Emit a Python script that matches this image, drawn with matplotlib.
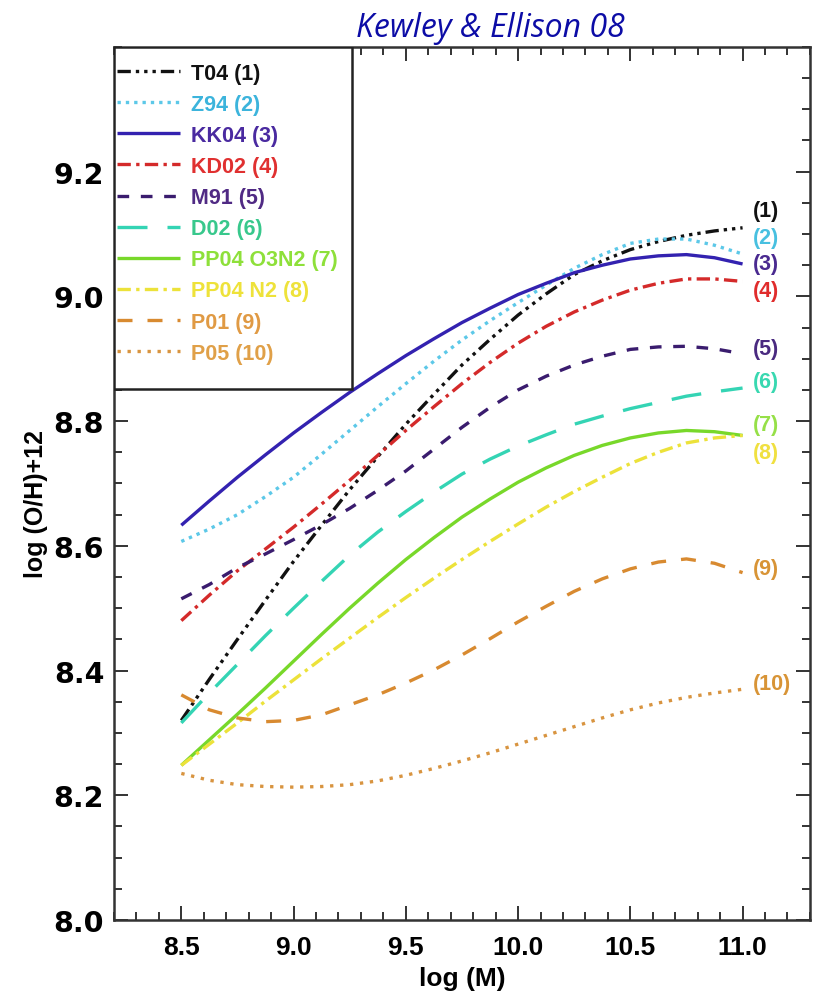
import matplotlib
matplotlib.use("Agg")
import matplotlib.pyplot as plt
from matplotlib.patches import Rectangle
from matplotlib.ticker import MultipleLocator

# log stellar mass grid
log_mass = [8.5, 8.625, 8.75, 8.875, 9.0, 9.125, 9.25, 9.375, 9.5, 9.625,
            9.75, 9.875, 10.0, 10.125, 10.25, 10.375, 10.5, 10.625, 10.75,
            10.875, 11.0]

# 12 + log(O/H) mass-metallicity relations for each calibration
t04 = [8.32, 8.386, 8.45, 8.513, 8.575, 8.633, 8.69, 8.743, 8.795, 8.843,
       8.89, 8.931, 8.97, 9.004, 9.035, 9.057, 9.075, 9.088, 9.098, 9.105, 9.11]
z94 = [8.607, 8.627, 8.65, 8.679, 8.71, 8.747, 8.785, 8.823, 8.86, 8.896,
       8.93, 8.961, 8.99, 9.018, 9.045, 9.067, 9.085, 9.092, 9.092, 9.082, 9.068]
kk04 = [8.633, 8.672, 8.71, 8.746, 8.781, 8.814, 8.846, 8.876, 8.905, 8.932,
        8.958, 8.981, 9.003, 9.021, 9.038, 9.05, 9.06, 9.065, 9.067, 9.062, 9.052]
kd02 = [8.48, 8.521, 8.56, 8.595, 8.63, 8.667, 8.705, 8.745, 8.785, 8.823,
        8.86, 8.894, 8.925, 8.952, 8.975, 8.994, 9.01, 9.021, 9.028, 9.028, 9.024]
m91 = [8.515, 8.538, 8.565, 8.587, 8.61, 8.634, 8.66, 8.689, 8.72, 8.755,
       8.79, 8.822, 8.85, 8.872, 8.89, 8.904, 8.915, 8.919, 8.92, 8.916, 8.908]
d02 = [8.316, 8.364, 8.41, 8.456, 8.5, 8.543, 8.585, 8.622, 8.655, 8.686,
       8.715, 8.739, 8.76, 8.778, 8.795, 8.808, 8.82, 8.83, 8.84, 8.847, 8.853]
pp04_o3n2 = [8.248, 8.289, 8.33, 8.372, 8.415, 8.458, 8.5, 8.54, 8.578, 8.613,
             8.646, 8.675, 8.702, 8.725, 8.745, 8.761, 8.773, 8.781, 8.785,
             8.783, 8.777]
pp04_n2 = [8.248, 8.282, 8.316, 8.351, 8.385, 8.419, 8.452, 8.485, 8.517,
           8.548, 8.578, 8.607, 8.635, 8.662, 8.687, 8.71, 8.732, 8.75, 8.765,
           8.773, 8.777]
p01 = [8.361, 8.337, 8.324, 8.318, 8.32, 8.329, 8.345, 8.361, 8.38, 8.401,
       8.425, 8.451, 8.478, 8.503, 8.527, 8.547, 8.563, 8.574, 8.579, 8.572, 8.557]
p05 = [8.235, 8.224, 8.217, 8.214, 8.213, 8.214, 8.217, 8.223, 8.232, 8.243,
       8.255, 8.268, 8.282, 8.296, 8.31, 8.324, 8.337, 8.348, 8.357, 8.364, 8.37]

labels = ["T04 (1)", "Z94 (2)", "KK04 (3)", "KD02 (4)", "M91 (5)", "D02 (6)",
          "PP04 O3N2 (7)", "PP04 N2 (8)", "P01 (9)", "P05 (10)"]
tags = ["(1)", "(2)", "(3)", "(4)", "(5)", "(6)", "(7)", "(8)", "(9)", "(10)"]

x_ticks = [8.5, 9.0, 9.5, 10.0, 10.5, 11.0]
y_ticks = [8.0, 8.2, 8.4, 8.6, 8.8, 9.0, 9.2]

series = [t04, z94, kk04, kd02, m91, d02, pp04_o3n2, pp04_n2, p01, p05]

line_colors = ["#111111", "#5cc8e8", "#3322b0", "#d42a2a", "#3a1c6e",
               "#34d4b4", "#78d82a", "#ece23a", "#d88a30", "#d89440"]
text_colors = ["#111111", "#3cb4dc", "#4a2aa0", "#e03030", "#502a84",
               "#38c88c", "#8ee03a", "#eee23a", "#e09a44", "#e0a048"]
tag_colors = ["#111111", "#48c0e0", "#4a2a90", "#e02c2c", "#4a2a80",
              "#38d8b0", "#96e048", "#f0e040", "#d89436", "#d89436"]
styles = [(0, (4, 1.5, 1, 1.5, 1, 1.5, 1, 1.5)),
          (0, (1, 1.5)),
          "-",
          (0, (4, 1.6, 1, 1.6)),
          (0, (3.5, 3.5)),
          (0, (9, 6)),
          "-",
          (0, (4, 1.6, 1, 1.6)),
          (0, (4.5, 4.5)),
          (0, (1, 2))]
# vertical placement of the end-of-curve tags
tag_y = [9.137, 9.095, 9.052, 9.010, 8.916, 8.863, 8.794, 8.749, 8.564, 8.380]

fig = plt.figure(figsize=(8.14, 9.95), dpi=100)
ax = fig.add_axes([0.140, 0.0744, 0.855, 0.8774])

for y, lab, c, ls in zip(series, labels, line_colors, styles):
    ax.plot(log_mass, y, color=c, ls=ls, lw=2.4, label=lab,
            solid_capstyle="butt", dash_capstyle="butt")

for t, ty, c in zip(tags, tag_y, tag_colors):
    ax.text(11.045, ty, t, color=c, fontsize=15.5, fontweight="bold",
            family="Liberation Sans", ha="left", va="center")

ax.set_xlim(8.2, 11.3)
ax.set_ylim(8.0, 9.4)
ax.set_xticks(x_ticks)
ax.set_yticks(y_ticks)
ax.xaxis.set_minor_locator(MultipleLocator(0.1))
ax.yaxis.set_minor_locator(MultipleLocator(0.05))
ax.set_xticklabels([f"{v:.1f}" for v in x_ticks], family="Liberation Sans",
                   fontweight="bold", fontsize=19)
ax.set_yticklabels([f"{v:.1f}" for v in y_ticks], family="DejaVu Sans",
                   fontweight="bold", fontsize=20.5)
ax.tick_params(which="both", direction="in", top=True, right=True,
               color="#333333", width=1.4)
ax.tick_params(which="major", length=10)
ax.tick_params(which="minor", length=5.8)
ax.tick_params(axis="x", which="major", pad=11)
ax.tick_params(axis="y", which="major", pad=7)
for s in ax.spines.values():
    s.set_linewidth(1.8)
    s.set_color("#333333")

ax.set_xlabel("log (M)", family="Liberation Sans", fontweight="bold",
              fontsize=19, labelpad=5)
ax.set_ylabel("log (O/H)+12", family="Liberation Sans", fontweight="bold",
              fontsize=18)
ax.yaxis.set_label_coords(-0.095, 0.478)

# legend box
ax.add_patch(Rectangle((0, 0.608), 0.342, 0.392, transform=ax.transAxes,
                       facecolor="white", edgecolor="#222222", lw=1.8,
                       zorder=3))
leg = ax.legend(loc="upper left", bbox_to_anchor=(0.004, 0.982),
                frameon=False, borderpad=0, borderaxespad=0,
                handlelength=2.95, handletextpad=0.5, labelspacing=0.47,
                prop={"family": "Liberation Sans", "weight": "bold",
                      "size": 15.5})
leg.set_zorder(4)
for txt, c in zip(leg.get_texts(), text_colors):
    txt.set_color(c)

fig.text(0.602, 0.971, "Kewley & Ellison 08", color="#0c0ca6",
         fontsize=23, style="italic", family="Open Sans",
         ha="center", va="center")

fig.savefig("out.png", dpi=100, facecolor="white")
